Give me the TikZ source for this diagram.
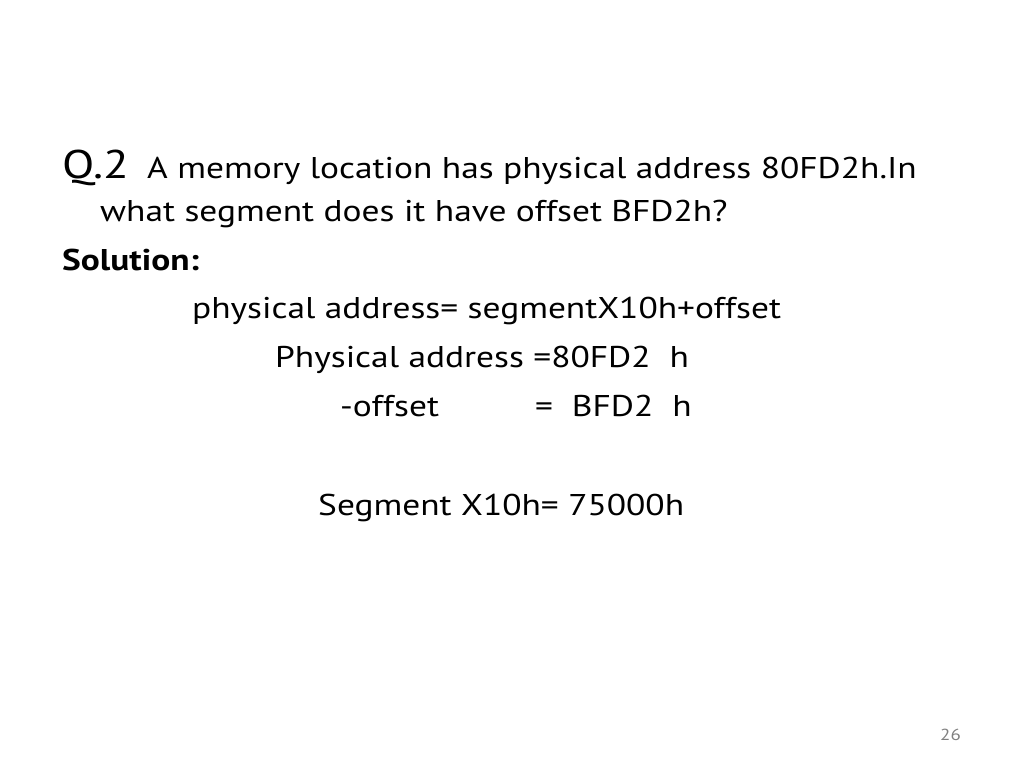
\documentclass[tikz,border=0pt]{standalone}
\usepackage{fontspec}
\setmainfont{PT Sans}[FakeStretch=1.18]
\begin{document}
\begin{tikzpicture}[x=1pt,y=-1pt,t/.style={anchor=base west,inner sep=0pt,font=\fontsize{30}{32}\selectfont}]
\useasboundingbox (0,0) rectangle (1024,768);
\node[t,font=\fontsize{40}{42}\selectfont] (q) at (62,178) {Q.2};
\node[t] (l1) at (147,178) {A memory location has physical address 80FD2h.In};
\node[t] (l2) at (100,221) {what segment does it have offset BFD2h?};
\node[t,font=\fontsize{30}{32}\selectfont\bfseries] (s) at (62,270) {Solution:};
\node[t] (f) at (192,318) {physical address= segmentX10h+offset};
\node[t] (p) at (275,367) {Physical address =80FD2\ \ h};
\node[t] (o) at (340,416) {-offset};
\node[t] (oe) at (535,416) {=\ \ BFD2\ \ h};
\node[t] (r) at (318,515) {Segment X10h= 75000h};
\node[anchor=base west,inner sep=0pt,font=\fontsize{16}{18}\selectfont,text=gray] (n) at (940,740) {26};
\end{tikzpicture}
\end{document}
